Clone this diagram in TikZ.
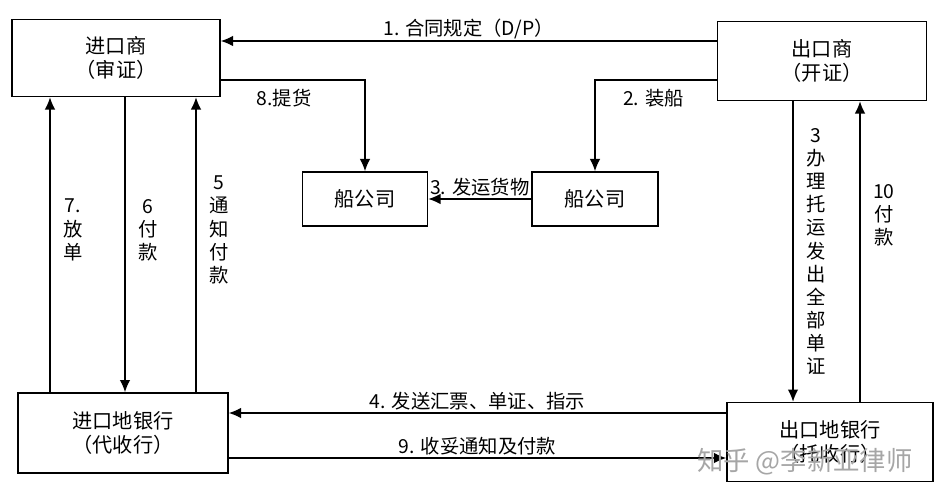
\documentclass[tikz,border=0pt]{standalone}
\usepackage{fontspec}
\setmainfont{Noto Sans CJK SC}
\usetikzlibrary{arrows.meta}

\begin{document}
\begin{tikzpicture}[x = 0.02cm , y = -0.02cm , font = \fontsize{11.5}{14}\selectfont ,
    box/.style = {draw , thick , inner sep = 0pt},
    arr/.style = {thick , -{Latex[length=7pt , width=6pt]}},
    lbl/.style = {align = center , inner sep = 1pt , font = \fontsize{11}{13.2}\selectfont}]
    \useasboundingbox (0,0) rectangle (943,500);
    % Κουτιά
    \node[box , minimum width = 208*0.02cm , minimum height = 77*0.02cm , align = center] (imp) at (116,58) {进口商\\（审证）};
    \node[box , minimum width = 209*0.02cm , minimum height = 79*0.02cm , align = center] (exp) at (822,61) {出口商\\（开证）};
    \node[box , minimum width = 125*0.02cm , minimum height = 54*0.02cm] (shipL) at (365,199) {船公司};
    \node[box , minimum width = 126*0.02cm , minimum height = 54*0.02cm] (shipR) at (595,199) {船公司};
    \node[box , minimum width = 210*0.02cm , minimum height = 80*0.02cm , align = center] (bankI) at (123,433) {进口地银行\\（代收行）};
    \node[box , minimum width = 206*0.02cm , minimum height = 79*0.02cm , align = center] (bankE) at (830,442) {出口地银行\\（托收行）};
    % Βέλη
    \draw[arr] (exp.west |- 0,41) -- (imp.east |- 0,41) node[midway , above , lbl] {1. 合同规定（D/P）};
    \draw[arr] (exp.west |- 0,80) -| (shipR.north) node[pos = 0.26 , below = 4pt , lbl] {2. 装船};
    \draw[arr] (imp.east |- 0,80) -| (shipL.north) node[pos = 0.22 , below = 4pt , lbl] {8.提货};
    \draw[arr] (shipR.west) -- (shipL.east) node[midway , above , lbl] {3. 发运货物};
    \draw[arr] (bankI.north -| 50,0) -- (imp.south -| 50,0) node[pos = 0.55 , right = 6pt , lbl] {7.\\放\\单};
    \draw[arr] (imp.south -| 125,0) -- (bankI.north -| 125,0) node[pos = 0.45 , right = 6pt , lbl] {6\\付\\款};
    \draw[arr] (bankI.north -| 196,0) -- (imp.south -| 196,0) node[pos = 0.55 , right = 6pt , lbl] {5\\通\\知\\付\\款};
    \draw[arr] (exp.south -| 793,0) -- (bankE.north -| 793,0) node[midway , right = 6pt , lbl] {3\\办\\理\\托\\运\\发\\出\\全\\部\\单\\证};
    \draw[arr] (bankE.north -| 860,0) -- (exp.south -| 860,0) node[pos = 0.62 , right = 6pt , lbl] {10\\付\\款};
    \draw[arr] (bankE.west |- 0,413) -- (bankI.east |- 0,413) node[midway , above , lbl] {4. 发送汇票、单证、指示};
    \draw[arr] (bankI.east |- 0,458) -- (bankE.west |- 0,458) node[midway , above , lbl] {9. 收妥通知及付款};
    % Υδατογράφημα
    \node[text = black!35 , font = \fontsize{15}{18}\selectfont] (wm) at (805,462) {知乎 @李新亚律师};
\end{tikzpicture}
\end{document}
